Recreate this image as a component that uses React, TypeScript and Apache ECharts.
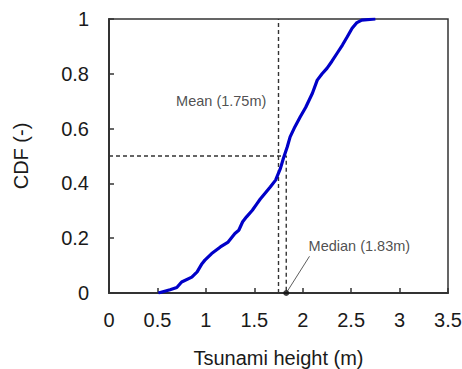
import React, { useEffect, useRef } from "react";
import * as echarts from "echarts";

const heights = [0.51, 0.63, 0.70, 0.75, 0.855, 0.91, 0.96, 0.99, 1.06, 1.15, 1.23, 1.30, 1.34, 1.38, 1.42, 1.48, 1.53, 1.56, 1.665, 1.72, 1.77, 1.80, 1.84, 1.87, 1.92, 1.975, 2.03, 2.10, 2.15, 2.20, 2.25, 2.30, 2.355, 2.41, 2.46, 2.51, 2.56, 2.61, 2.75];
const cdf = [0.0, 0.012, 0.02, 0.04, 0.058, 0.077, 0.107, 0.12, 0.144, 0.168, 0.186, 0.217, 0.229, 0.26, 0.278, 0.302, 0.327, 0.342, 0.387, 0.412, 0.455, 0.491, 0.533, 0.57, 0.607, 0.643, 0.677, 0.729, 0.777, 0.80, 0.82, 0.845, 0.875, 0.905, 0.935, 0.966, 0.987, 0.996, 1.0];

const meanValue = 1.75;
const medianValue = 1.83;
const meanLabel = "Mean (1.75m)";
const medianLabel = "Median (1.83m)";
const xTicks = [0, 0.5, 1, 1.5, 2, 2.5, 3, 3.5];
const yTicks = [0, 0.2, 0.4, 0.6, 0.8, 1];

export default function App() {
  const ref = useRef<HTMLDivElement>(null);
  useEffect(() => {
    if (!ref.current) return;
    const chart = echarts.init(ref.current, undefined, { renderer: "svg" });
    const dashed = { color: "#333", width: 1.4, type: [4, 3] as any };
    const tickFont = { fontFamily: "Liberation Sans", fontSize: 20, color: "#1a1a1a" };
    chart.setOption({
      animation: false,
      backgroundColor: "#fff",
      grid: {
        left: 109,
        right: 14,
        top: 19,
        bottom: 76,
        containLabel: false,
        outerBoundsMode: "none",
        show: true,
        borderColor: "#333",
        borderWidth: 1.5,
      },
      xAxis: {
        type: "value",
        min: xTicks[0],
        max: xTicks[xTicks.length - 1],
        interval: 0.5,
        name: "Tsunami height (m)",
        nameLocation: "middle",
        nameGap: 55,
        nameTextStyle: { fontFamily: "Liberation Sans", fontSize: 20, color: "#1a1a1a" },
        axisLine: { show: true, onZero: false, lineStyle: { color: "#333", width: 2 } },
        axisTick: { show: true, inside: true, length: 5, lineStyle: { color: "#333", width: 1.5 } },
        axisLabel: { ...tickFont, margin: 17 },
        splitLine: { show: false },
      },
      yAxis: {
        type: "value",
        min: yTicks[0],
        max: yTicks[yTicks.length - 1],
        interval: 0.2,
        name: "CDF (-)",
        nameLocation: "middle",
        nameGap: 78,
        nameRotate: 90,
        nameTextStyle: { fontFamily: "Liberation Sans", fontSize: 20, color: "#1a1a1a" },
        axisLine: { show: true, onZero: false, lineStyle: { color: "#333", width: 2 } },
        axisTick: { show: true, inside: true, length: 5, lineStyle: { color: "#333", width: 1.5 } },
        axisLabel: { ...tickFont, margin: 20 },
        splitLine: { show: false },
      },
      series: [
        {
          type: "line",
          data: [[meanValue, 0], [meanValue, 1]],
          symbol: "none",
          lineStyle: dashed,
          silent: true,
        },
        {
          type: "line",
          data: [[0, 0.5], [medianValue, 0.5], [medianValue, 0]],
          symbol: "none",
          lineStyle: dashed,
          silent: true,
        },
        {
          type: "line",
          data: heights.map((h, i) => [h, cdf[i]]),
          symbol: "none",
          lineStyle: { color: "#0000c8", width: 3.2 },
          z: 5,
        },
        {
          type: "line",
          data: [[medianValue, 0], [2.07, 0.134]],
          symbol: "none",
          lineStyle: { color: "#333", width: 0.8 },
          z: 6,
        },
        {
          type: "scatter",
          data: [[medianValue, 0]],
          symbol: "circle",
          symbolSize: 6,
          itemStyle: { color: "#111" },
          z: 7,
        },
        {
          type: "scatter",
          data: [
            { value: [2.06, 0.171], label: { formatter: medianLabel, position: "right", align: "left" } },
            { value: [1.625, 0.70], label: { formatter: meanLabel, position: "left", align: "right" } },
          ],
          symbolSize: 0.1,
          itemStyle: { color: "transparent" },
          label: {
            show: true,
            distance: 0,
            fontFamily: "Liberation Sans",
            fontSize: 14.5,
            color: "#222",
          },
          z: 8,
        },
      ],
    });
    return () => chart.dispose();
  }, []);
  return (
    <div
      ref={ref}
      style={{ position: "absolute", left: 0, top: 0, width: 462, height: 369 }}
    />
  );
}
